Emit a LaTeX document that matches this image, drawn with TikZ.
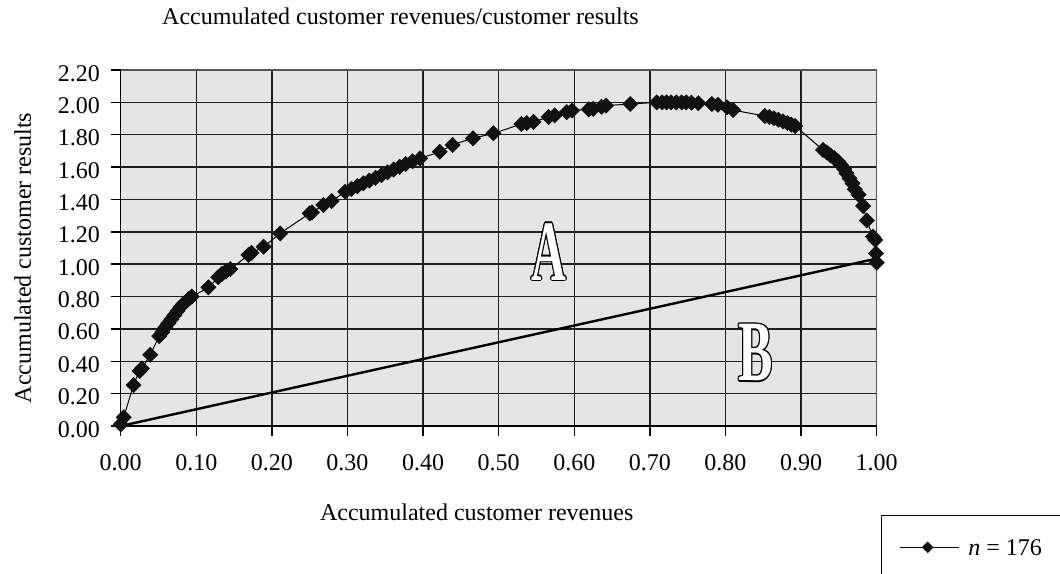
\documentclass[tikz,border=0pt]{standalone}
\usepackage{fontspec}
\setmainfont{Liberation Serif}
\usetikzlibrary{plotmarks}
\definecolor{plotbg}{RGB}{229,229,229}
\definecolor{gridc}{RGB}{30,30,30}
\definecolor{mkc}{RGB}{17,17,17}
\definecolor{framec}{RGB}{85,85,85}
\pgfdeclareplotmark{dmd}{%
  \pgfpathmoveto{\pgfqpoint{0pt}{5.7pt}}%
  \pgfpathlineto{\pgfqpoint{5.7pt}{0pt}}%
  \pgfpathlineto{\pgfqpoint{0pt}{-5.7pt}}%
  \pgfpathlineto{\pgfqpoint{-5.7pt}{0pt}}%
  \pgfpathclose\pgfusepathqfillstroke}
\newcommand\ocopy[3]{\rlap{\kern#1\raisebox{#2}{#3}}}
\newcommand\olet[1]{\ocopy{-1.6pt}{0pt}{#1}\ocopy{1.6pt}{0pt}{#1}\ocopy{0pt}{1pt}{#1}\ocopy{0pt}{-1pt}{#1}%
  \ocopy{-1.1pt}{.7pt}{#1}\ocopy{1.1pt}{.7pt}{#1}\ocopy{-1.1pt}{-.7pt}{#1}\ocopy{1.1pt}{-.7pt}{#1}\textcolor{white}{#1}}
\tikzset{
  lbl/.style={font=\fontsize{18}{21}\selectfont, inner sep=0pt},
  gridline/.style={draw=gridc, line width=1.1pt},
  tickline/.style={draw=black, line width=1.1pt},
  curve/.style={draw=black, line width=0.75pt},
  diag/.style={draw=black, line width=1.8pt},
  big/.style={font=\fontsize{64.5}{70}\selectfont\bfseries, inner sep=0pt, anchor=base, text=black},
}
\begin{document}
\begin{tikzpicture}[x=0.75pt,y=-0.75pt]
\useasboundingbox (0,0) rectangle (1060,574);
\node[lbl,anchor=base] (title) at (400.5,25) {Accumulated customer revenues/customer results};
\node[lbl,anchor=base,rotate=90] (ylab) at (31,258) {Accumulated customer results};
\node[lbl,anchor=base] (xlab) at (476.7,520) {Accumulated customer revenues};

\begin{scope}[shift={(120.7,426)}, x=567pt, y=121.35pt]
  \fill[plotbg] (0,0) rectangle (1,2.2);
  \foreach \i in {1,...,9} \draw[gridline] (\i/10,0) -- (\i/10,2.2);
  \foreach \j in {1,...,10} \draw[gridline] (0,\j/5) -- (1,\j/5);
  \draw[draw=framec, line width=1.1pt] (0,2.2) -- (1,2.2) -- (1,0);
  \draw[gridline, draw=black] (0,2.2) -- (0,0) -- (1,0);
  \foreach \i/\l in {0/0.00,1/0.10,2/0.20,3/0.30,4/0.40,5/0.50,6/0.60,7/0.70,8/0.80,9/0.90,10/1.00}{
    \draw[tickline] (\i/10,0) -- ++(0,-7.5pt);
    \node[lbl,anchor=base,yshift=-33pt] (xt\i) at (\i/10,0) {\l};
  }
  \foreach \j/\l in {0/0.00,1/0.20,2/0.40,3/0.60,4/0.80,5/1.00,6/1.20,7/1.40,8/1.60,9/1.80,10/2.00,11/2.20}{
    \draw[tickline] (0,\j/5) -- ++(-7.5pt,0);
    \node[lbl,anchor=base east,xshift=-15.5pt,yshift=-8.25pt] (yt\j) at (0,\j/5) {\l};
  }
  \coordinate (o) at (0,0);
  \coordinate (e) at (1,1.035);
  \draw[diag] (o) -- (e);
  \draw[curve] plot[smooth, tension=0.4, mark=dmd, mark options={fill=mkc, draw=mkc, line width=0.4pt, solid}] coordinates {
    (0,0.01) (0.004,0.054) (0.017,0.253) (0.025,0.34) (0.028,0.356) (0.039,0.44)
    (0.051,0.556) (0.055,0.58) (0.059,0.61) (0.063,0.635) (0.067,0.66) (0.071,0.685)
    (0.075,0.71) (0.079,0.735) (0.083,0.755) (0.09,0.785) (0.094,0.80) (0.116,0.857)
    (0.129,0.92) (0.134,0.94) (0.139,0.955) (0.145,0.97) (0.169,1.057) (0.173,1.07)
    (0.189,1.108) (0.211,1.19) (0.25,1.314) (0.253,1.32) (0.268,1.366) (0.279,1.39)
    (0.297,1.448) (0.305,1.465) (0.313,1.482) (0.321,1.5) (0.329,1.517) (0.337,1.534)
    (0.345,1.551) (0.353,1.568) (0.361,1.585) (0.369,1.602) (0.377,1.619) (0.386,1.636)
    (0.396,1.654) (0.422,1.695) (0.439,1.737) (0.466,1.778) (0.493,1.809)
    (0.530,1.866) (0.537,1.872) (0.546,1.88) (0.566,1.91) (0.574,1.92) (0.590,1.94)
    (0.597,1.95) (0.619,1.957) (0.625,1.96) (0.636,1.973) (0.642,1.98) (0.674,1.99)
    (0.709,2.0) (0.716,2.0) (0.722,2.0) (0.728,2.0) (0.735,2.0) (0.742,2.0) (0.748,2.0)
    (0.755,1.998) (0.764,1.995) (0.782,1.99) (0.790,1.985) (0.802,1.97) (0.810,1.953)
    (0.852,1.916) (0.858,1.91) (0.864,1.902) (0.87,1.893) (0.876,1.883) (0.882,1.872)
    (0.887,1.863) (0.892,1.854)
    (0.929,1.706) (0.934,1.69) (0.939,1.672) (0.944,1.655) (0.949,1.635) (0.953,1.612)
    (0.957,1.588) (0.960,1.562) (0.964,1.53) (0.968,1.50) (0.971,1.463) (0.976,1.43)
    (0.982,1.36) (0.987,1.27) (0.995,1.17) (0.998,1.15) (0.999,1.067) (1.0,1.01)
  };
\end{scope}

% outlined letters
\node[big,xscale=0.56] (A) at (548.7,280) {\olet{A}};
\node[big,xscale=0.6] (B) at (755.8,380.7) {\olet{B}};

% legend
\draw[line width=1pt] (881.7,574) -- (881.7,515.7) -- (1060,515.7);
\coordinate (l1) at (900,547.3);
\coordinate (l2) at (959.3,547.3);
\coordinate (lm) at (927.7,547.3);
\draw[line width=1pt] (l1) -- (l2);
\fill[mkc] (lm) +(0,-5.8) -- +(5.8,0) -- +(0,5.8) -- +(-5.8,0) -- cycle;
\node[lbl,anchor=base west] (leg) at (968,555) {\textit{n} = 176};
\end{tikzpicture}
\end{document}
